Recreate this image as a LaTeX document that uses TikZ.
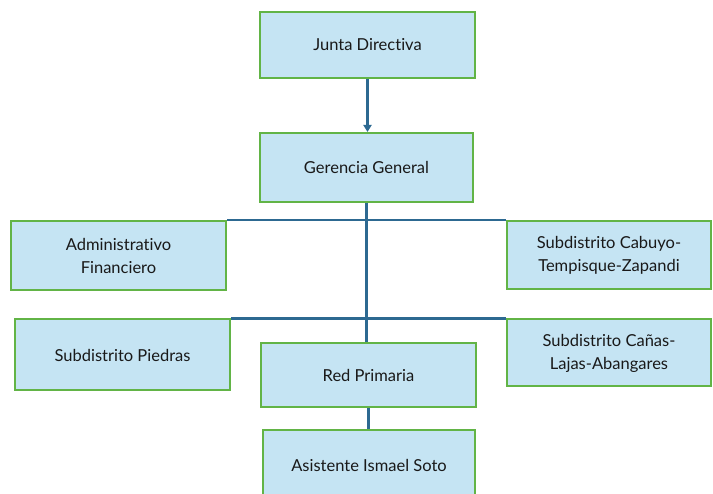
\documentclass[tikz,border=0pt]{standalone}
\usepackage{fontspec}
\setmainfont{Lato}[Ligatures=NoCommon]
\usetikzlibrary{arrows.meta}
\definecolor{boxfill}{RGB}{197,228,243}
\definecolor{boxedge}{RGB}{98,180,70}
\definecolor{linkcol}{RGB}{45,105,145}
\begin{document}
\begin{tikzpicture}[x=1pt,y=-1pt,
  orgbox/.style={draw=boxedge, fill=boxfill, line width=2pt, align=center,
    inner sep=0pt, font=\fontsize{16.5}{23}\selectfont, text=black!90},
  link/.style={draw=linkcol, line width=2.5pt}]
\useasboundingbox (0,0) rectangle (713,494);
\clip (0,0) rectangle (713,494);
\fill[white] (0,0) rectangle (713,494);
\node[orgbox, minimum width=215pt, minimum height=66pt] (junta) at (367.5,45) {Junta Directiva};
\node[orgbox, minimum width=213pt, minimum height=69pt] (ger) at (366.5,167.5) {Gerencia General};
\node[orgbox, minimum width=215pt, minimum height=69pt] (adm) at (118.5,255.5) {Administrativo\\Financiero};
\node[orgbox, minimum width=204pt, minimum height=68pt] (cab) at (609,255) {Subdistrito Cabuyo-\\Tempisque-Zapandi};
\node[orgbox, minimum width=215pt, minimum height=71pt] (pie) at (122.5,355) {Subdistrito Piedras};
\node[orgbox, minimum width=204pt, minimum height=67pt] (can) at (609,353) {Subdistrito Cañas-\\Lajas-Abangares};
\node[orgbox, minimum width=215pt, minimum height=64pt] (red) at (368.5,375) {Red Primaria};
\node[orgbox, minimum width=212pt, minimum height=70pt] (asi) at (369,465) {Asistente Ismael Soto};
\draw[link, -{Triangle[length=7pt,width=8pt]}] (junta.south) -- (junta.south |- ger.north);
\draw[link] (ger.south) -- (ger.south |- red.north);
\draw[link] (adm.north east) -- (cab.north west);
\draw[link] (pie.north east) -- (can.north west);
\draw[link] (red.south) -- (red.south |- asi.north);
\end{tikzpicture}
\end{document}
